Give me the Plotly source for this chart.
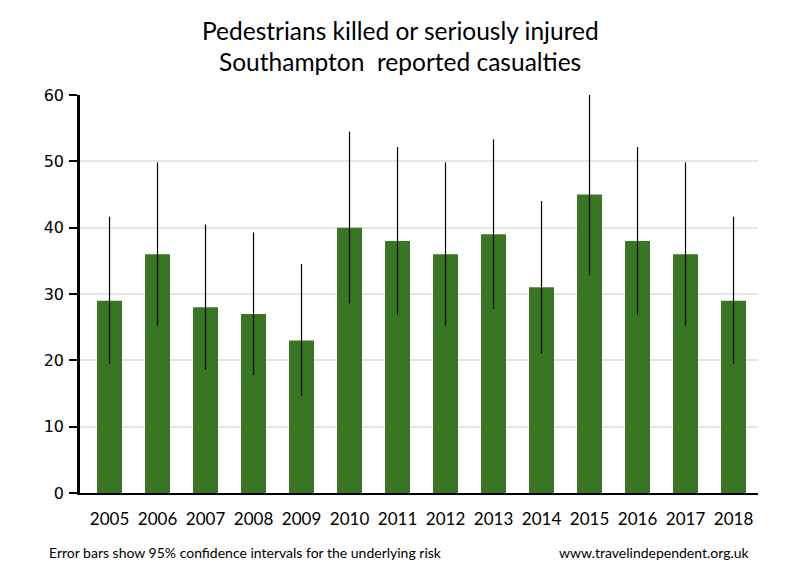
import plotly.graph_objects as go

# Pedestrians KSI, Southampton, reported casualties
years = ["2005", "2006", "2007", "2008", "2009", "2010", "2011",
         "2012", "2013", "2014", "2015", "2016", "2017", "2018"]
casualties = [29, 36, 28, 27, 23, 40, 38, 36, 39, 31, 45, 38, 36, 29]
# 95% confidence interval ends
ci_upper = [41.65, 49.84, 40.47, 39.28, 34.51, 54.47, 52.16,
            49.84, 53.31, 44.00, 60.21, 52.16, 49.84, 41.65]
ci_lower = [19.42, 25.21, 18.61, 17.79, 14.58, 28.58, 26.89,
            25.21, 27.73, 21.06, 32.82, 26.89, 25.21, 19.42]

err_plus = [u - v for u, v in zip(ci_upper, casualties)]
err_minus = [v - l for v, l in zip(casualties, ci_lower)]

GREEN = "#387623"
LABEL_FONT = "Lato, 'Open Sans', sans-serif"

fig = go.Figure()
fig.add_trace(go.Bar(
    x=list(range(len(years))),
    y=casualties,
    width=0.52,
    marker=dict(color=GREEN, line=dict(width=0)),
    error_y=dict(type="data", symmetric=False, array=err_plus, arrayminus=err_minus,
                 color="black", thickness=1.2, width=0),
    hoverinfo="x+y",
))

# page has an 8px body margin, so the figure is a bit smaller than the window
fig.update_layout(
    width=792, height=572,
    margin=dict(l=72, r=42, t=87, b=87),
    plot_bgcolor="white", paper_bgcolor="white",
    showlegend=False,
    xaxis=dict(
        tickmode="array", tickvals=list(range(len(years))), ticktext=years,
        range=[-0.615, 13.51],
        showline=True, linecolor="black", linewidth=2.2,
        ticks="", showgrid=False, zeroline=False,
        ticklabelstandoff=9,
        tickfont=dict(family=LABEL_FONT, size=17, color="black"),
    ),
    yaxis=dict(
        range=[0, 60], dtick=10,
        showline=True, linecolor="black", linewidth=2.5,
        ticks="outside", ticklen=8, tickwidth=2, tickcolor="black",
        ticklabelstandoff=2,
        showgrid=True, gridcolor="#e6e6e6", gridwidth=2,
        zeroline=False,
        tickfont=dict(family="DejaVu Sans", size=16, color="black"),
    ),
    font=dict(family=LABEL_FONT, color="black"),
)

# two-line title, centred on the window rather than the plot area
fig.add_annotation(
    text="Pedestrians killed or seriously injured",
    xref="paper", yref="paper", x=0.472, y=1.161, xanchor="center", yanchor="middle",
    showarrow=False, font=dict(family=LABEL_FONT, size=24.5, color="black"),
)
fig.add_annotation(
    text="Southampton  reported casualties",
    xref="paper", yref="paper", x=0.472, y=1.085, xanchor="center", yanchor="middle",
    showarrow=False, font=dict(family=LABEL_FONT, size=24.5, color="black"),
)

fig.add_annotation(
    text="Error bars show 95% confidence intervals for the underlying risk",
    xref="paper", yref="paper", x=-0.049, y=-0.15, xanchor="left", yanchor="middle",
    showarrow=False, font=dict(family=LABEL_FONT, size=14, color="black"),
)
fig.add_annotation(
    text="www.travelindependent.org.uk",
    xref="paper", yref="paper", x=0.9915, y=-0.15, xanchor="right", yanchor="middle",
    showarrow=False, font=dict(family=LABEL_FONT, size=14, color="black"),
)

fig.write_html("out.html")
